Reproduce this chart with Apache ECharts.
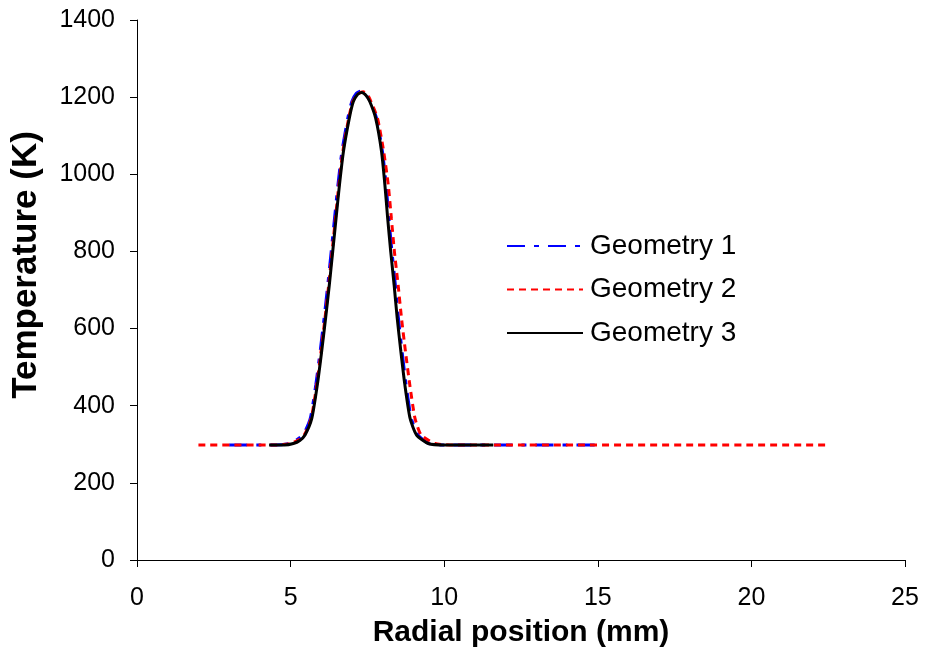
<!DOCTYPE html>
<html>
<head>
<meta charset="utf-8">
<script src="https://cdn.jsdelivr.net/npm/echarts@6/dist/echarts.min.js"></script>
<style>html,body{margin:0;padding:0;background:#fff}#c{width:925px;height:649px}</style>
</head>
<body>
<div id="c"></div>
<script>
const seriesNames = ["Geometry 1", "Geometry 2", "Geometry 3"];

const geom1X = [3.0, 4.5, 4.95, 5.2, 5.42, 5.64, 5.82, 5.96, 6.09, 6.21, 6.32, 6.43, 6.54, 6.67, 6.86, 6.99, 7.14, 7.29, 7.44, 7.6, 7.8, 7.99, 8.11, 8.2, 8.3, 8.41, 8.51, 8.63, 8.76, 8.93, 9.15, 9.5, 10.0, 15.0];
const geom1T = [298, 298, 302, 312, 326, 367, 454, 540, 627, 713, 799, 886, 972, 1059, 1145, 1188, 1210, 1216, 1208, 1188, 1145, 1059, 972, 886, 799, 713, 627, 540, 454, 367, 324, 302, 298, 298];

const geom2X = [2.0, 4.5, 5.0, 5.25, 5.45, 5.67, 5.85, 5.99, 6.12, 6.24, 6.35, 6.46, 6.57, 6.7, 6.89, 7.02, 7.18, 7.36, 7.5, 7.62, 7.83, 8.03, 8.18, 8.28, 8.38, 8.5, 8.61, 8.74, 8.88, 9.05, 9.25, 9.7, 10.3, 22.4];
const geom2T = [298, 298, 302, 311, 325, 367, 454, 540, 627, 713, 799, 886, 972, 1059, 1145, 1188, 1207, 1214, 1207, 1188, 1145, 1059, 972, 886, 799, 713, 627, 540, 454, 367, 324, 302, 298, 298];

const geom3X = [4.3, 4.8, 5.09, 5.3, 5.47, 5.69, 5.87, 6.01, 6.14, 6.26, 6.37, 6.48, 6.59, 6.72, 6.91, 7.04, 7.18, 7.31, 7.45, 7.58, 7.77, 7.96, 8.07, 8.16, 8.26, 8.37, 8.47, 8.59, 8.72, 8.89, 9.1, 9.48, 10.0, 11.6];
const geom3T = [298, 298, 302, 310, 324, 367, 454, 540, 627, 713, 799, 886, 972, 1059, 1145, 1188, 1207, 1212, 1205, 1188, 1145, 1059, 972, 886, 799, 713, 627, 540, 454, 367, 324, 302, 298, 298];

const xTicks = [0, 5, 10, 15, 20, 25];
const yTicks = [0, 200, 400, 600, 800, 1000, 1200, 1400];

function pairs(xs, ys) { return xs.map((x, i) => [x, ys[i]]); }

const chart = echarts.init(document.getElementById('c'));
const font = 'Liberation Sans, Arial, sans-serif';
chart.setOption({
  animation: false,
  backgroundColor: '#fff',
  grid: { left: 137, right: 20, top: 20, bottom: 89, containLabel: false, outerBoundsMode: 'none' },
  legend: {
    orient: 'vertical',
    left: 501, top: 227,
    itemWidth: 76, itemHeight: 14, itemGap: 15.5,
    itemStyle: { opacity: 0 },
    textStyle: { fontFamily: font, fontSize: 28, color: '#000', padding: [0, 0, 0, 2] },
    data: seriesNames
  },
  xAxis: {
    type: 'value', min: xTicks[0], max: xTicks[xTicks.length - 1], interval: 5,
    name: 'Radial position (mm)', nameLocation: 'middle', nameGap: 58,
    nameTextStyle: { fontFamily: font, fontSize: 30, fontWeight: 'bold', color: '#000' },
    axisLine: { lineStyle: { color: '#000', width: 1 } },
    axisTick: { show: true, inside: false, length: 7, lineStyle: { color: '#000' } },
    axisLabel: { fontFamily: font, fontSize: 25, color: '#000', margin: 26, formatter: v => String(v) },
    splitLine: { show: false }
  },
  yAxis: {
    type: 'value', min: yTicks[0], max: yTicks[yTicks.length - 1], interval: 200,
    name: 'Temperature (K)', nameLocation: 'middle', nameGap: 93,
    nameTextStyle: { fontFamily: font, fontSize: 35, fontWeight: 'bold', color: '#000', padding: [0, 0, 0, 50] },
    axisLine: { show: true, lineStyle: { color: '#000', width: 1 } },
    axisTick: { show: true, inside: false, length: 7, lineStyle: { color: '#000' } },
    axisLabel: { fontFamily: font, fontSize: 25, color: '#000', margin: 22, formatter: v => String(v) },
    splitLine: { show: false }
  },
  series: [
    { name: seriesNames[0], type: 'line', data: pairs(geom1X, geom1T), symbol: 'none', symbolSize: 0, smooth: 0.2,
      lineStyle: { color: '#0000ff', width: 3, type: [18, 9, 5, 9] }, itemStyle: { color: '#0000ff' } },
    { name: seriesNames[1], type: 'line', data: pairs(geom2X, geom2T), symbol: 'none', symbolSize: 0, smooth: 0.2,
      lineStyle: { color: '#ff0000', width: 3, type: [7, 5] }, itemStyle: { color: '#ff0000' } },
    { name: seriesNames[2], type: 'line', data: pairs(geom3X, geom3T), symbol: 'none', symbolSize: 0, smooth: 0.2,
      lineStyle: { color: '#000000', width: 3, type: 'solid' }, itemStyle: { color: '#000000' } }
  ]
});
</script>
</body>
</html>
